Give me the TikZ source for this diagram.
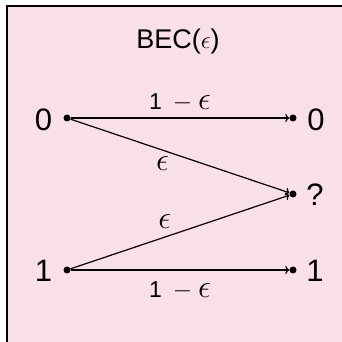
\documentclass[tikz,border=0pt]{standalone}
\usepackage{fontspec}
\setmainfont{Liberation Sans}
\usetikzlibrary{arrows.meta}
\definecolor{bgpink}{RGB}{249,223,231}
\newcommand{\bigeps}{\scalebox{1.3}{$\epsilon$}}
\begin{document}
\begin{tikzpicture}[x=1pt,y=1pt,
  dotnode/.style={circle,fill=black,inner sep=0pt,minimum size=7pt},
  symlab/.style={inner sep=0pt,font=\fontsize{31}{36}\selectfont},
  titlelab/.style={inner sep=0pt,font=\fontsize{27}{32}\selectfont},
  elab/.style={inner sep=0pt,font=\fontsize{23}{28}\selectfont},
  chan/.style={line width=1.2pt,-{To[length=4pt,width=8pt]}}]
\useasboundingbox (0,0) rectangle (342,342);
\clip (0,0) rectangle (342,342);
\fill[white] (0,0) rectangle (342,342);
\draw[line width=2pt,fill=bgpink] (7,336) rectangle (400,-60);
\node[titlelab] (title) at (178,300) {BEC($\epsilon$)};
\node[dotnode] (x0) at (67,224) {};
\node[dotnode] (x1) at (67,72) {};
\node[dotnode] (y0) at (293,224) {};
\node[dotnode] (ye) at (293,148) {};
\node[dotnode] (y1) at (293,72) {};
\node[symlab] (lx0) at (43.5,222) {0};
\node[symlab] (lx1) at (43.5,71) {1};
\node[symlab] (ly0) at (316,222) {0};
\node[symlab] (lye) at (315,147) {?};
\node[symlab] (ly1) at (315,71) {1};
\draw[chan] (x0) -- node[elab,above=6pt] {1\hspace{11pt}$-$\hspace{6pt}\bigeps} (y0);
\draw[chan] (x0) -- node[elab,pos=0.42,below=6pt] {\bigeps} (ye);
\draw[chan] (x1) -- node[elab,pos=0.43,above=8pt] {\bigeps} (ye);
\draw[chan] (x1) -- node[elab,below=11pt] {1\hspace{11pt}$-$\hspace{6pt}\bigeps} (y1);
\end{tikzpicture}
\end{document}
